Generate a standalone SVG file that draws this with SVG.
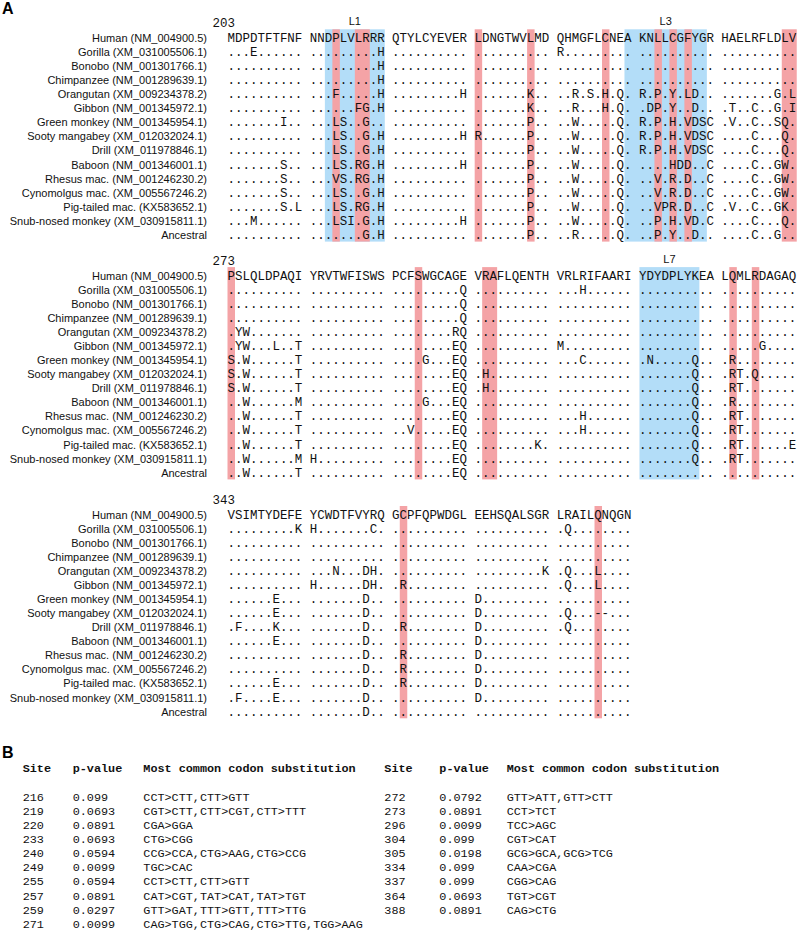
<svg xmlns="http://www.w3.org/2000/svg" width="799" height="932" viewBox="0 0 799 932">
<style>
.seq{font-family:"Liberation Mono","Courier New",monospace;font-size:12.48px;fill:#111;white-space:pre}
.lab{font-family:"Liberation Sans",Arial,sans-serif;font-size:11px;fill:#111;text-anchor:end}
.loop{font-family:"Liberation Sans",Arial,sans-serif;font-size:11px;fill:#111;text-anchor:middle}
.pk{fill:#F4A3A6}
.bl{fill:#B3DDF8}
.panel{font-family:"Liberation Sans",Arial,sans-serif;font-size:16px;font-weight:bold;fill:#000}
.th{font-family:"Liberation Mono","Courier New",monospace;font-size:11.8px;font-weight:bold;fill:#111}
.td{font-family:"Liberation Mono","Courier New",monospace;font-size:11.8px;fill:#111}
</style>
<rect width="799" height="932" fill="#fff"/>
<text class="panel" x="2" y="14">A</text>
<g id="block1" transform="translate(0,37.8)">
<g id="b1-cols">
<rect class="bl" x="324.87" y="-8.5" width="59.92" height="212.3"/>
<rect class="bl" x="624.47" y="-8.5" width="82.39" height="212.3"/>
<rect class="pk" x="332.36" y="-8.5" width="7.49" height="212.3"/>
<rect class="pk" x="354.83" y="-8.5" width="14.98" height="212.3"/>
<rect class="pk" x="474.67" y="-8.5" width="7.49" height="212.3"/>
<rect class="pk" x="527.1" y="-8.5" width="7.49" height="212.3"/>
<rect class="pk" x="602.0" y="-8.5" width="7.49" height="212.3"/>
<rect class="pk" x="654.43" y="-8.5" width="7.49" height="212.3"/>
<rect class="pk" x="669.41" y="-8.5" width="7.49" height="212.3"/>
<rect class="pk" x="684.39" y="-8.5" width="7.49" height="212.3"/>
<rect class="pk" x="781.76" y="-8.5" width="14.98" height="212.3"/>
</g>
<text class="seq" x="212.5" y="-10.9">203</text>
<text class="loop" x="354.8" y="-13.1">L1</text>
<text class="loop" x="665.7" y="-13.1">L3</text>
<g id="b1-labels">
<text class="lab" x="207" y="4.1">Human (NM_004900.5)</text>
<text class="lab" x="207" y="18.17">Gorilla (XM_031005506.1)</text>
<text class="lab" x="207" y="32.24">Bonobo (NM_001301766.1)</text>
<text class="lab" x="207" y="46.31">Chimpanzee (NM_001289639.1)</text>
<text class="lab" x="207" y="60.38">Orangutan (XM_009234378.2)</text>
<text class="lab" x="207" y="74.45">Gibbon (NM_001345972.1)</text>
<text class="lab" x="207" y="88.52">Green monkey (NM_001345954.1)</text>
<text class="lab" x="207" y="102.59">Sooty mangabey (XM_012032024.1)</text>
<text class="lab" x="207" y="116.66">Drill (XM_011978846.1)</text>
<text class="lab" x="207" y="130.73">Baboon (NM_001346001.1)</text>
<text class="lab" x="207" y="144.8">Rhesus mac. (NM_001246230.2)</text>
<text class="lab" x="207" y="158.87">Cynomolgus mac. (XM_005567246.2)</text>
<text class="lab" x="207" y="172.94">Pig-tailed mac. (KX583652.1)</text>
<text class="lab" x="207" y="187.01">Snub-nosed monkey (XM_030915811.1)</text>
<text class="lab" x="207" y="201.08">Ancestral</text>
</g>
<g id="b1-seqs">
<text class="seq" x="227.5" y="4.1">MDPDTFTFNF NNDPLVLRRR QTYLCYEVER LDNGTWVLMD QHMGFLCNEA KNLLCGFYGR HAELRFLDLV</text>
<text class="seq" x="227.5" y="18.17">...E...... .........H .......... .......... R......... .......... ..........</text>
<text class="seq" x="227.5" y="32.24">.......... .........H .......... .......... .......... .......... ..........</text>
<text class="seq" x="227.5" y="46.31">.......... .........H .......... .......... .......... .......... ..........</text>
<text class="seq" x="227.5" y="60.38">.......... ...F.....H .........H .......K.. ..R.S.H.Q. R.P.Y.LD.. .......G.L</text>
<text class="seq" x="227.5" y="74.45">.......... ......FG.H .......... .......K.. ..R...H.Q. .DP.Y..D.. .T..C..G.I</text>
<text class="seq" x="227.5" y="88.52">.......I.. ...LS..G.. .......... .......P.. ..W.....Q. R.P.H.VDSC .V..C..SQ.</text>
<text class="seq" x="227.5" y="102.59">.......... ...LS..G.H .........H R......P.. ..W.....Q. R.P.H.VDSC ....C...Q.</text>
<text class="seq" x="227.5" y="116.66">.......... ...LS..G.H .......... .......P.. ..W.....Q. R.P.H.VDSC ....C...Q.</text>
<text class="seq" x="227.5" y="130.73">.......S.. ...LS.RG.H .........H .......P.. ..W.....Q. ....HDD..C ....C..GW.</text>
<text class="seq" x="227.5" y="144.8">.......S.. ...VS.RG.H .......... .......P.. ..W.....Q. ..V.R.D..C ....C..GW.</text>
<text class="seq" x="227.5" y="158.87">.......S.. ...LS..G.H .......... .......P.. ..W.....Q. ..V.R.D..C ....C..GW.</text>
<text class="seq" x="227.5" y="172.94">.......S.L ...LS.RG.H .......... .......P.. ..W.....Q. ..VPR.D..C .V..C..GK.</text>
<text class="seq" x="227.5" y="187.01">...M...... ...LSI.G.H .........H .......P.. ..W.....Q. ..P.H.VD.C ....C...Q.</text>
<text class="seq" x="227.5" y="201.08">.......... .......G.H .......... .......P.. ..R.....Q. ..P.Y..D.. ....C..G..</text>
</g>
</g>
<g id="block2" transform="translate(0,275.6)">
<g id="b2-cols">
<rect class="bl" x="639.45" y="-8.5" width="59.92" height="212.3"/>
<rect class="pk" x="227.5" y="-8.5" width="7.49" height="212.3"/>
<rect class="pk" x="414.75" y="-8.5" width="7.49" height="212.3"/>
<rect class="pk" x="482.16" y="-8.5" width="14.98" height="212.3"/>
<rect class="pk" x="729.33" y="-8.5" width="7.49" height="212.3"/>
<rect class="pk" x="751.8" y="-8.5" width="7.49" height="212.3"/>
</g>
<text class="seq" x="212.5" y="-10.9">273</text>
<text class="loop" x="669.4" y="-13.1">L7</text>
<g id="b2-labels">
<text class="lab" x="207" y="4.1">Human (NM_004900.5)</text>
<text class="lab" x="207" y="18.17">Gorilla (XM_031005506.1)</text>
<text class="lab" x="207" y="32.24">Bonobo (NM_001301766.1)</text>
<text class="lab" x="207" y="46.31">Chimpanzee (NM_001289639.1)</text>
<text class="lab" x="207" y="60.38">Orangutan (XM_009234378.2)</text>
<text class="lab" x="207" y="74.45">Gibbon (NM_001345972.1)</text>
<text class="lab" x="207" y="88.52">Green monkey (NM_001345954.1)</text>
<text class="lab" x="207" y="102.59">Sooty mangabey (XM_012032024.1)</text>
<text class="lab" x="207" y="116.66">Drill (XM_011978846.1)</text>
<text class="lab" x="207" y="130.73">Baboon (NM_001346001.1)</text>
<text class="lab" x="207" y="144.8">Rhesus mac. (NM_001246230.2)</text>
<text class="lab" x="207" y="158.87">Cynomolgus mac. (XM_005567246.2)</text>
<text class="lab" x="207" y="172.94">Pig-tailed mac. (KX583652.1)</text>
<text class="lab" x="207" y="187.01">Snub-nosed monkey (XM_030915811.1)</text>
<text class="lab" x="207" y="201.08">Ancestral</text>
</g>
<g id="b2-seqs">
<text class="seq" x="227.5" y="4.1">PSLQLDPAQI YRVTWFISWS PCFSWGCAGE VRAFLQENTH VRLRIFAARI YDYDPLYKEA LQMLRDAGAQ</text>
<text class="seq" x="227.5" y="18.17">.......... .......... .........Q .......... ...H...... .......... ..........</text>
<text class="seq" x="227.5" y="32.24">.......... .......... .........Q .......... .......... .......... ..........</text>
<text class="seq" x="227.5" y="46.31">.......... .......... .........Q .......... .......... .......... ..........</text>
<text class="seq" x="227.5" y="60.38">.YW....... .......... ........RQ .......... .......... .......... ..........</text>
<text class="seq" x="227.5" y="74.45">.YW...L..T .......... ........EQ .......... M......... .......... .....G....</text>
<text class="seq" x="227.5" y="88.52">S.W......T .......... ....G...EQ .......... ...C...... .N.....Q.. .R........</text>
<text class="seq" x="227.5" y="102.59">S.W......T .......... ........EQ .H........ .......... .......Q.. .RT.Q.....</text>
<text class="seq" x="227.5" y="116.66">S.W......T .......... ........EQ .H........ .......... .......Q.. .RT.......</text>
<text class="seq" x="227.5" y="130.73">..W......M .......... ....G...EQ .......... .......... .......Q.. .R........</text>
<text class="seq" x="227.5" y="144.8">..W......T .......... ........EQ .......... ...H...... .......Q.. .RT.......</text>
<text class="seq" x="227.5" y="158.87">..W......T .......... ..V.....EQ .......... ...H...... .......Q.. .RT.......</text>
<text class="seq" x="227.5" y="172.94">..W......T .......... ........EQ ........K. .......... .......Q.. .RT......E</text>
<text class="seq" x="227.5" y="187.01">..W......M H......... ........EQ .......... .......... .......Q.. .RT.......</text>
<text class="seq" x="227.5" y="201.08">..W......T .......... ........EQ .......... .......... .......... ..........</text>
</g>
</g>
<g id="block3" transform="translate(0,514.5)">
<g id="b3-cols">
<rect class="pk" x="399.77" y="-8.5" width="7.49" height="212.3"/>
<rect class="pk" x="594.51" y="-8.5" width="7.49" height="212.3"/>
</g>
<text class="seq" x="212.5" y="-10.9">343</text>
<g id="b3-labels">
<text class="lab" x="207" y="4.1">Human (NM_004900.5)</text>
<text class="lab" x="207" y="18.17">Gorilla (XM_031005506.1)</text>
<text class="lab" x="207" y="32.24">Bonobo (NM_001301766.1)</text>
<text class="lab" x="207" y="46.31">Chimpanzee (NM_001289639.1)</text>
<text class="lab" x="207" y="60.38">Orangutan (XM_009234378.2)</text>
<text class="lab" x="207" y="74.45">Gibbon (NM_001345972.1)</text>
<text class="lab" x="207" y="88.52">Green monkey (NM_001345954.1)</text>
<text class="lab" x="207" y="102.59">Sooty mangabey (XM_012032024.1)</text>
<text class="lab" x="207" y="116.66">Drill (XM_011978846.1)</text>
<text class="lab" x="207" y="130.73">Baboon (NM_001346001.1)</text>
<text class="lab" x="207" y="144.8">Rhesus mac. (NM_001246230.2)</text>
<text class="lab" x="207" y="158.87">Cynomolgus mac. (XM_005567246.2)</text>
<text class="lab" x="207" y="172.94">Pig-tailed mac. (KX583652.1)</text>
<text class="lab" x="207" y="187.01">Snub-nosed monkey (XM_030915811.1)</text>
<text class="lab" x="207" y="201.08">Ancestral</text>
</g>
<g id="b3-seqs">
<text class="seq" x="227.5" y="4.1">VSIMTYDEFE YCWDTFVYRQ GCPFQPWDGL EEHSQALSGR LRAILQNQGN</text>
<text class="seq" x="227.5" y="18.17">.........K H.......C. .......... .......... .Q........</text>
<text class="seq" x="227.5" y="32.24">.......... .......... .......... .......... ..........</text>
<text class="seq" x="227.5" y="46.31">.......... .......... .......... .......... ..........</text>
<text class="seq" x="227.5" y="60.38">.......... ...N...DH. .......... .........K .Q...L....</text>
<text class="seq" x="227.5" y="74.45">.......... H......DH. .R........ .......... .Q...L....</text>
<text class="seq" x="227.5" y="88.52">......E... .......D.. .......... D......... ..........</text>
<text class="seq" x="227.5" y="102.59">......E... .......D.. .......... D......... .Q...--...</text>
<text class="seq" x="227.5" y="116.66">.F....K... .......D.. .R........ D......... .Q........</text>
<text class="seq" x="227.5" y="130.73">......E... .......D.. .......... D......... ..........</text>
<text class="seq" x="227.5" y="144.8">.......... .......D.. .R........ D......... ..........</text>
<text class="seq" x="227.5" y="158.87">.......... .......D.. .R........ D......... ..........</text>
<text class="seq" x="227.5" y="172.94">......E... .......D.. .R........ D......... ..........</text>
<text class="seq" x="227.5" y="187.01">.F....E... .......D.. .......... D......... ..........</text>
<text class="seq" x="227.5" y="201.08">.......... .......D.. .......... .......... ..........</text>
</g>
</g>
<text class="panel" x="2" y="757.5">B</text>
<g id="table">
<g id="table-header">
<text class="th" x="22.7" y="772.2">Site</text>
<text class="th" x="72.7" y="772.2">p-value</text>
<text class="th" x="143.3" y="772.2">Most common codon substitution</text>
<text class="th" x="384.3" y="772.2">Site</text>
<text class="th" x="439.3" y="772.2">p-value</text>
<text class="th" x="506.7" y="772.2">Most common codon substitution</text>
</g>
<g id="table-left">
<text class="td" x="22.7" y="800.6">216</text><text class="td" x="72.7" y="800.6">0.099</text><text class="td" x="143.3" y="800.6">CCT&gt;CTT,CTT&gt;GTT</text>
<text class="td" x="22.7" y="814.7">219</text><text class="td" x="72.7" y="814.7">0.0693</text><text class="td" x="143.3" y="814.7">CGT&gt;CTT,CTT&gt;CGT,CTT&gt;TTT</text>
<text class="td" x="22.7" y="828.9">220</text><text class="td" x="72.7" y="828.9">0.0891</text><text class="td" x="143.3" y="828.9">CGA&gt;GGA</text>
<text class="td" x="22.7" y="843.0">233</text><text class="td" x="72.7" y="843.0">0.0693</text><text class="td" x="143.3" y="843.0">CTG&gt;CGG</text>
<text class="td" x="22.7" y="857.1">240</text><text class="td" x="72.7" y="857.1">0.0594</text><text class="td" x="143.3" y="857.1">CCG&gt;CCA,CTG&gt;AAG,CTG&gt;CCG</text>
<text class="td" x="22.7" y="871.3">249</text><text class="td" x="72.7" y="871.3">0.0099</text><text class="td" x="143.3" y="871.3">TGC&gt;CAC</text>
<text class="td" x="22.7" y="885.4">255</text><text class="td" x="72.7" y="885.4">0.0594</text><text class="td" x="143.3" y="885.4">CCT&gt;CTT,CTT&gt;GTT</text>
<text class="td" x="22.7" y="899.5">257</text><text class="td" x="72.7" y="899.5">0.0891</text><text class="td" x="143.3" y="899.5">CAT&gt;CGT,TAT&gt;CAT,TAT&gt;TGT</text>
<text class="td" x="22.7" y="913.6">259</text><text class="td" x="72.7" y="913.6">0.0297</text><text class="td" x="143.3" y="913.6">GTT&gt;GAT,TTT&gt;GTT,TTT&gt;TTG</text>
<text class="td" x="22.7" y="927.8">271</text><text class="td" x="72.7" y="927.8">0.0099</text><text class="td" x="143.3" y="927.8">CAG&gt;TGG,CTG&gt;CAG,CTG&gt;TTG,TGG&gt;AAG</text>
</g>
<g id="table-right">
<text class="td" x="384.3" y="800.6">272</text><text class="td" x="439.3" y="800.6">0.0792</text><text class="td" x="506.7" y="800.6">GTT&gt;ATT,GTT&gt;CTT</text>
<text class="td" x="384.3" y="814.7">273</text><text class="td" x="439.3" y="814.7">0.0891</text><text class="td" x="506.7" y="814.7">CCT&gt;TCT</text>
<text class="td" x="384.3" y="828.9">296</text><text class="td" x="439.3" y="828.9">0.0099</text><text class="td" x="506.7" y="828.9">TCC&gt;AGC</text>
<text class="td" x="384.3" y="843.0">304</text><text class="td" x="439.3" y="843.0">0.099</text><text class="td" x="506.7" y="843.0">CGT&gt;CAT</text>
<text class="td" x="384.3" y="857.1">305</text><text class="td" x="439.3" y="857.1">0.0198</text><text class="td" x="506.7" y="857.1">GCG&gt;GCA,GCG&gt;TCG</text>
<text class="td" x="384.3" y="871.3">334</text><text class="td" x="439.3" y="871.3">0.099</text><text class="td" x="506.7" y="871.3">CAA&gt;CGA</text>
<text class="td" x="384.3" y="885.4">337</text><text class="td" x="439.3" y="885.4">0.099</text><text class="td" x="506.7" y="885.4">CGG&gt;CAG</text>
<text class="td" x="384.3" y="899.5">364</text><text class="td" x="439.3" y="899.5">0.0693</text><text class="td" x="506.7" y="899.5">TGT&gt;CGT</text>
<text class="td" x="384.3" y="913.6">388</text><text class="td" x="439.3" y="913.6">0.0891</text><text class="td" x="506.7" y="913.6">CAG&gt;CTG</text>
</g>
</g>
</svg>
